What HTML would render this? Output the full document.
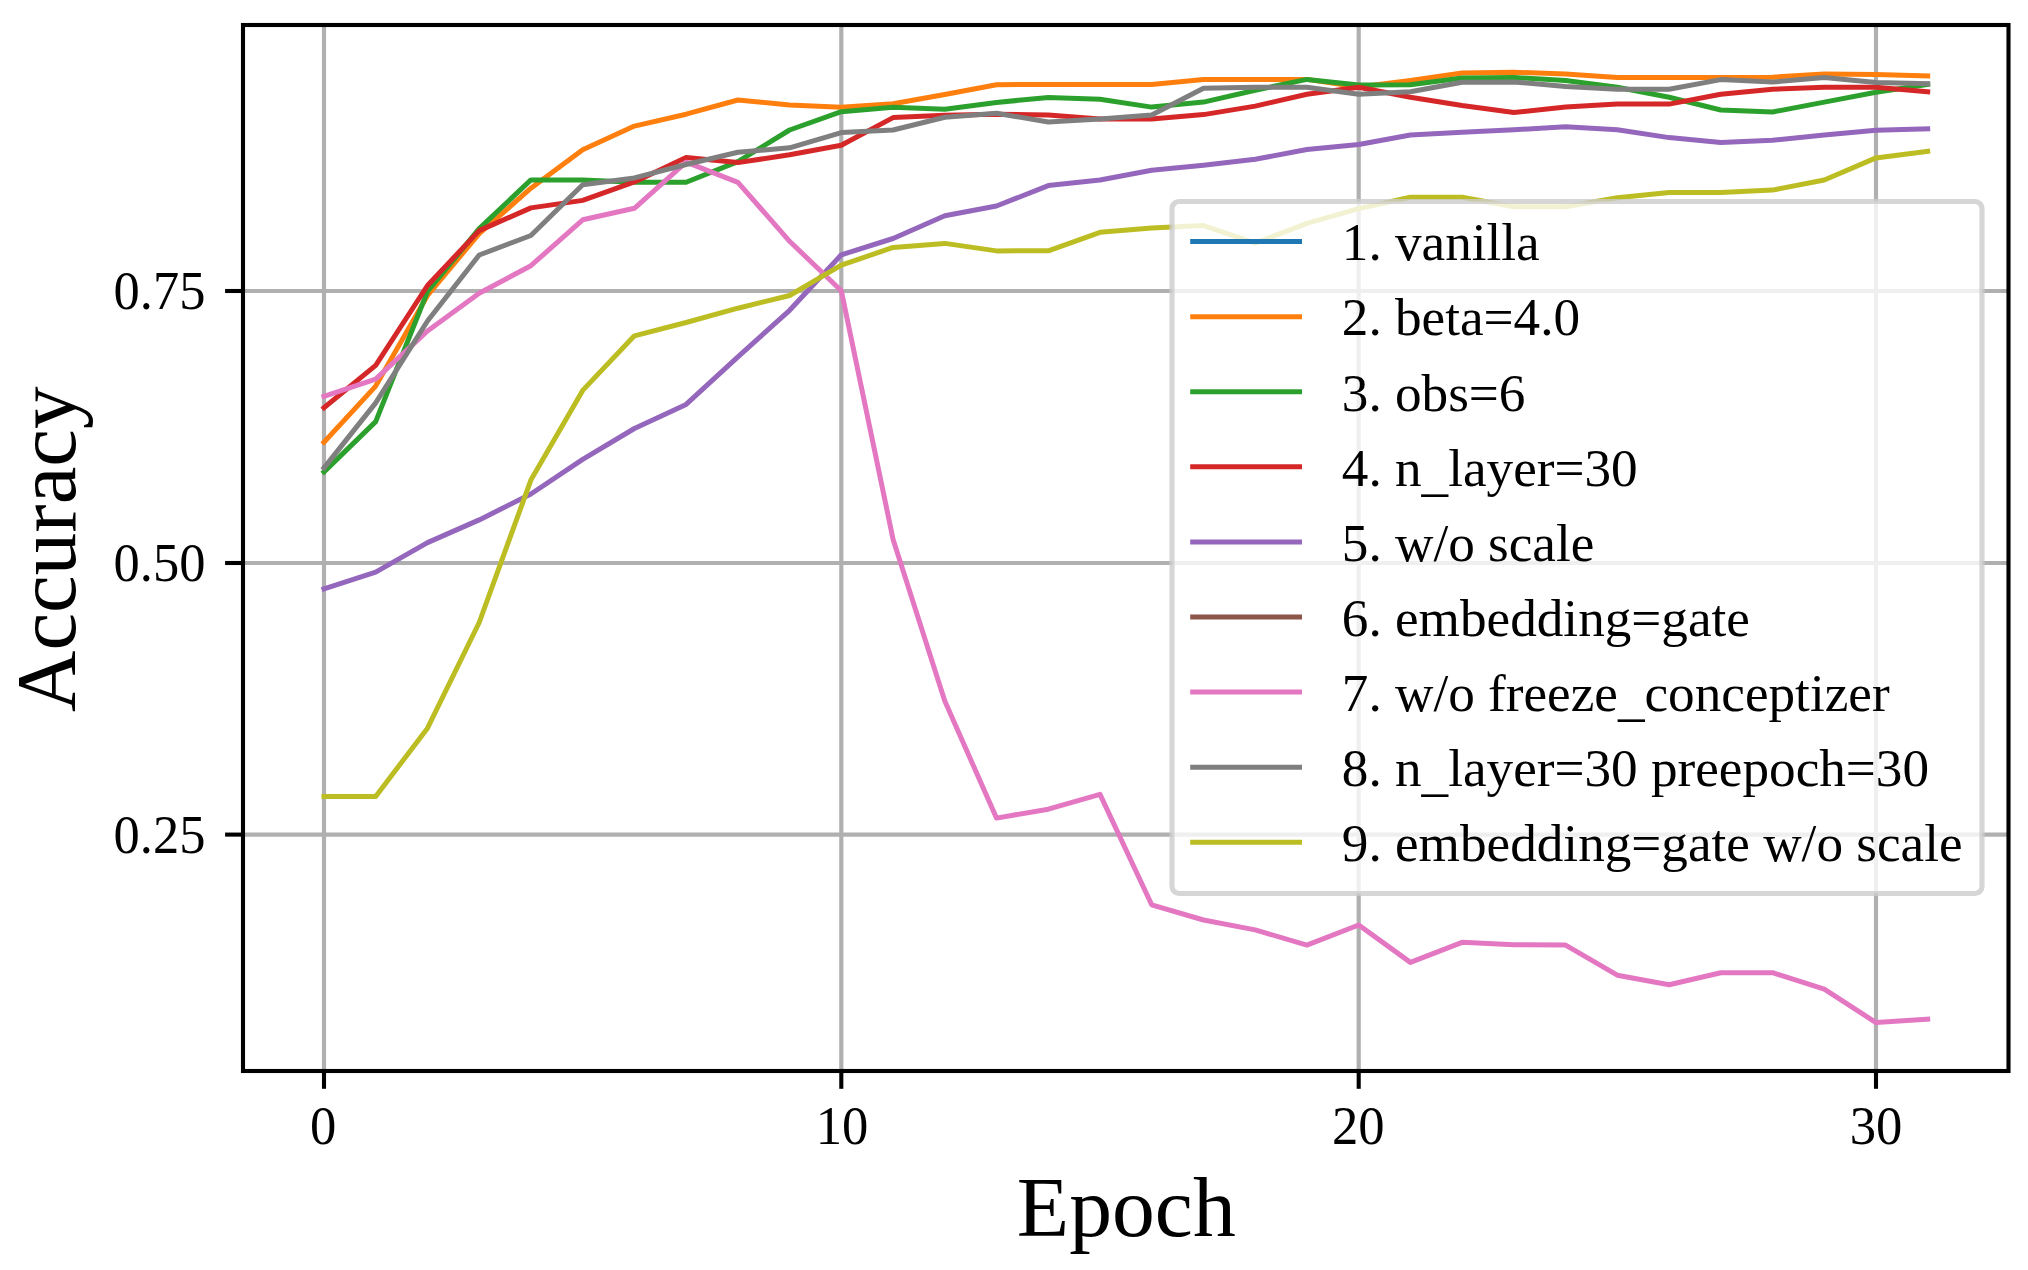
<!DOCTYPE html>
<html><head><meta charset="utf-8"><title>Accuracy vs Epoch</title>
<style>
html,body{margin:0;padding:0;background:#fff;}
svg{display:block;}
text{font-family:"Liberation Serif","Times New Roman",Times,serif;fill:#000;}
.tick{font-size:54px;}
.lab{font-size:85px;}
.leg{font-size:53.7px;}
</style></head><body>
<svg width="2028" height="1270" viewBox="0 0 2028 1270">
<rect x="0" y="0" width="2028" height="1270" fill="#ffffff"/>

<g stroke="#b0b0b0" stroke-width="4.17" fill="none">
<line x1="324.0" y1="25.0" x2="324.0" y2="1071.0"/>
<line x1="841.3" y1="25.0" x2="841.3" y2="1071.0"/>
<line x1="1358.7" y1="25.0" x2="1358.7" y2="1071.0"/>
<line x1="1876.0" y1="25.0" x2="1876.0" y2="1071.0"/>
<line x1="243.0" y1="291.0" x2="2008.5" y2="291.0"/>
<line x1="243.0" y1="563.0" x2="2008.5" y2="563.0"/>
<line x1="243.0" y1="834.6" x2="2008.5" y2="834.6"/>
</g>
<g fill="none" stroke-width="5.0" stroke-linejoin="round" stroke-linecap="square">
<polyline stroke="#ff7f0e" points="324.0,442.3 375.7,386.1 427.5,295.4 479.2,233.6 530.9,188.2 582.7,149.7 634.4,126.1 686.1,114.2 737.9,100.0 789.6,105.0 841.3,107.3 893.1,103.8 944.8,94.5 996.5,84.7 1048.3,84.5 1100.0,84.4 1151.7,84.4 1203.5,79.4 1255.2,79.4 1306.9,79.4 1358.7,87.0 1410.4,80.4 1462.1,73.1 1513.9,72.3 1565.6,73.9 1617.3,77.5 1669.1,77.5 1720.8,77.5 1772.5,77.2 1824.3,73.9 1876.0,74.5 1927.7,75.9"/>
<polyline stroke="#2ca02c" points="324.0,471.9 375.7,421.6 427.5,291.5 479.2,228.6 530.9,179.9 582.7,180.0 634.4,182.3 686.1,182.3 737.9,161.6 789.6,130.0 841.3,111.7 893.1,107.3 944.8,109.3 996.5,102.4 1048.3,97.5 1100.0,99.2 1151.7,107.1 1203.5,102.1 1255.2,90.3 1306.9,79.4 1358.7,85.0 1410.4,84.7 1462.1,77.9 1513.9,77.5 1565.6,80.4 1617.3,87.3 1669.1,97.2 1720.8,110.0 1772.5,112.0 1824.3,102.1 1876.0,92.3 1927.7,84.4"/>
<polyline stroke="#d62728" points="324.0,407.8 375.7,365.4 427.5,285.5 479.2,230.6 530.9,207.9 582.7,200.4 634.4,181.9 686.1,157.6 737.9,162.6 789.6,154.7 841.3,145.2 893.1,117.6 944.8,115.2 996.5,114.2 1048.3,115.1 1100.0,118.9 1151.7,118.9 1203.5,114.6 1255.2,106.1 1306.9,94.2 1358.7,87.3 1410.4,97.2 1462.1,105.5 1513.9,112.6 1565.6,107.1 1617.3,104.1 1669.1,104.1 1720.8,94.2 1772.5,89.3 1824.3,87.3 1876.0,87.3 1927.7,91.7"/>
<polyline stroke="#9467bd" points="324.0,588.9 375.7,572.1 427.5,542.6 479.2,519.9 530.9,494.0 582.7,459.4 634.4,428.5 686.1,404.4 737.9,356.8 789.6,310.3 841.3,254.8 893.1,238.5 944.8,215.8 996.5,206.0 1048.3,185.6 1100.0,180.0 1151.7,170.2 1203.5,165.2 1255.2,159.3 1306.9,149.5 1358.7,144.5 1410.4,135.0 1462.1,132.3 1513.9,129.7 1565.6,126.8 1617.3,129.7 1669.1,137.6 1720.8,142.6 1772.5,140.2 1824.3,135.1 1876.0,130.3 1927.7,128.8"/>
<polyline stroke="#e377c2" points="324.0,396.4 375.7,379.2 427.5,330.9 479.2,293.3 530.9,265.7 582.7,219.8 634.4,208.3 686.1,162.2 737.9,182.3 789.6,241.3 841.3,290.7 893.1,539.4 944.8,701.0 996.5,818.1 1048.3,809.2 1100.0,794.4 1151.7,904.8 1203.5,920.0 1255.2,929.9 1306.9,945.1 1358.7,925.0 1410.4,962.4 1462.1,942.3 1513.9,944.7 1565.6,945.1 1617.3,975.2 1669.1,984.7 1720.8,972.7 1772.5,972.7 1824.3,989.1 1876.0,1022.6 1927.7,1019.2"/>
<polyline stroke="#7f7f7f" points="324.0,467.9 375.7,402.9 427.5,321.0 479.2,255.0 530.9,235.5 582.7,184.7 634.4,177.9 686.1,164.5 737.9,152.3 789.6,147.8 841.3,132.6 893.1,130.0 944.8,117.2 996.5,113.3 1048.3,122.0 1100.0,118.9 1151.7,115.0 1203.5,88.3 1255.2,87.3 1306.9,87.3 1358.7,94.2 1410.4,91.7 1462.1,82.2 1513.9,82.0 1565.6,86.4 1617.3,89.3 1669.1,89.3 1720.8,79.6 1772.5,82.1 1824.3,77.5 1876.0,82.4 1927.7,83.8"/>
<polyline stroke="#bcbd22" points="324.0,796.4 375.7,796.4 427.5,728.2 479.2,622.5 530.9,480.1 582.7,390.4 634.4,335.8 686.1,322.5 737.9,308.2 789.6,295.5 841.3,265.2 893.1,247.4 944.8,243.4 996.5,250.9 1048.3,250.8 1100.0,232.3 1151.7,228.0 1203.5,225.6 1255.2,243.2 1306.9,223.4 1358.7,208.6 1410.4,197.2 1462.1,197.2 1513.9,206.7 1565.6,206.7 1617.3,197.8 1669.1,192.6 1720.8,192.6 1772.5,190.1 1824.3,180.0 1876.0,157.9 1927.7,151.4"/>
</g>
<g stroke="#000" stroke-width="4.1" fill="none">
<line x1="324.0" y1="1071.0" x2="324.0" y2="1088.8"/>
<line x1="841.3" y1="1071.0" x2="841.3" y2="1088.8"/>
<line x1="1358.7" y1="1071.0" x2="1358.7" y2="1088.8"/>
<line x1="1876.0" y1="1071.0" x2="1876.0" y2="1088.8"/>
<line x1="225.1" y1="291.0" x2="243.0" y2="291.0"/>
<line x1="225.1" y1="563.0" x2="243.0" y2="563.0"/>
<line x1="225.1" y1="834.6" x2="243.0" y2="834.6"/>
</g>
<rect x="243.0" y="25.0" width="1765.5" height="1046.0" fill="none" stroke="#000" stroke-width="4.1" stroke-linejoin="miter"/>
<text class="tick" transform="translate(323.1,1144.3) scale(0.975,1)" text-anchor="middle">0</text>
<text class="tick" transform="translate(842.1,1144.3) scale(0.975,1)" text-anchor="middle">10</text>
<text class="tick" transform="translate(1358.2,1144.3) scale(0.975,1)" text-anchor="middle">20</text>
<text class="tick" transform="translate(1876.1,1144.3) scale(0.975,1)" text-anchor="middle">30</text>
<text class="tick" transform="translate(205.4,309.2) scale(0.972,1)" text-anchor="end">0.75</text>
<text class="tick" transform="translate(205.4,581.2) scale(0.972,1)" text-anchor="end">0.50</text>
<text class="tick" transform="translate(205.4,852.8) scale(0.972,1)" text-anchor="end">0.25</text>
<text class="lab" transform="translate(1126.3,1236.2) scale(1.008,1)" text-anchor="middle">Epoch</text>
<text class="lab" transform="translate(74.5,549.2) rotate(-90)" text-anchor="middle">Accuracy</text>
<rect x="1172" y="201.5" width="810" height="692" rx="7" ry="7" fill="#ffffff" fill-opacity="0.8" stroke="#cccccc" stroke-opacity="0.8" stroke-width="5.2"/>
<line x1="1192.7" y1="241.6" x2="1299.5" y2="241.6" stroke="#1f77b4" stroke-width="5.0" stroke-linecap="square"/>
<text class="leg" transform="translate(1341.8,260.3) scale(0.9907,1)">1. vanilla</text>
<line x1="1192.7" y1="316.7" x2="1299.5" y2="316.7" stroke="#ff7f0e" stroke-width="5.0" stroke-linecap="square"/>
<text class="leg" transform="translate(1341.8,335.4) scale(0.9907,1)">2. beta=4.0</text>
<line x1="1192.7" y1="391.8" x2="1299.5" y2="391.8" stroke="#2ca02c" stroke-width="5.0" stroke-linecap="square"/>
<text class="leg" transform="translate(1341.8,410.5) scale(0.9907,1)">3. obs=6</text>
<line x1="1192.7" y1="466.8" x2="1299.5" y2="466.8" stroke="#d62728" stroke-width="5.0" stroke-linecap="square"/>
<text class="leg" transform="translate(1341.8,485.6) scale(0.9907,1)">4. n<tspan dy="4.5">_</tspan><tspan dy="-4.5">layer=30</tspan></text>
<line x1="1192.7" y1="541.9" x2="1299.5" y2="541.9" stroke="#9467bd" stroke-width="5.0" stroke-linecap="square"/>
<text class="leg" transform="translate(1341.8,560.7) scale(0.9907,1)">5. w/o scale</text>
<line x1="1192.7" y1="617.0" x2="1299.5" y2="617.0" stroke="#8c564b" stroke-width="5.0" stroke-linecap="square"/>
<text class="leg" transform="translate(1341.8,635.8) scale(0.9907,1)">6. embedding=gate</text>
<line x1="1192.7" y1="692.1" x2="1299.5" y2="692.1" stroke="#e377c2" stroke-width="5.0" stroke-linecap="square"/>
<text class="leg" transform="translate(1341.8,710.8) scale(0.9907,1)">7. w/o freeze<tspan dy="4.5">_</tspan><tspan dy="-4.5">conceptizer</tspan></text>
<line x1="1192.7" y1="767.2" x2="1299.5" y2="767.2" stroke="#7f7f7f" stroke-width="5.0" stroke-linecap="square"/>
<text class="leg" transform="translate(1341.8,785.9) scale(0.9907,1)">8. n<tspan dy="4.5">_</tspan><tspan dy="-4.5">layer=30 preepoch=30</tspan></text>
<line x1="1192.7" y1="842.2" x2="1299.5" y2="842.2" stroke="#bcbd22" stroke-width="5.0" stroke-linecap="square"/>
<text class="leg" transform="translate(1341.8,861.0) scale(0.9907,1)">9. embedding=gate w/o scale</text>
</svg></body></html>
